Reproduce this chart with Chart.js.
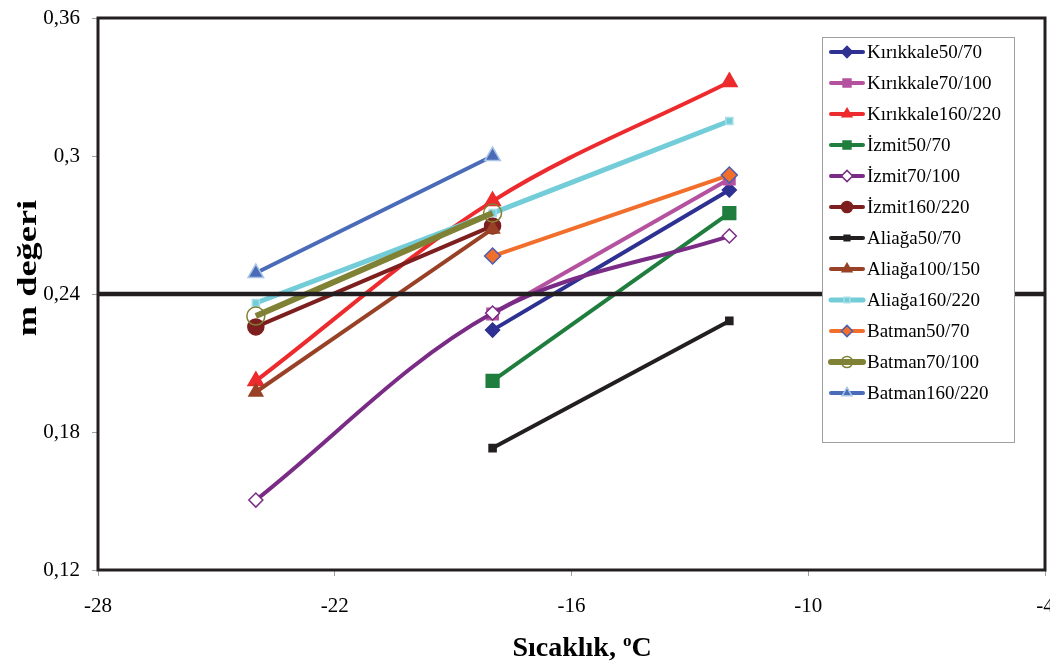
<!DOCTYPE html>
<html lang="tr">
<head>
  <meta charset="UTF-8" />
  <title>m değeri - Sıcaklık</title>
  <script src="https://cdn.jsdelivr.net/npm/chart.js"></script>
  <style>
    html, body { margin: 0; padding: 0; background: #fff; }
    #wrap { width: 1050px; height: 666px; position: relative; }
  </style>
</head>
<body>
  <div id="wrap"><canvas id="chart" width="1050" height="666"></canvas></div>

  <script>
    // Data
    const temps = [-24, -18, -12];
    const seriesNames = [
      "Kırıkkale50/70", "Kırıkkale70/100", "Kırıkkale160/220",
      "İzmit50/70", "İzmit70/100", "İzmit160/220",
      "Aliağa50/70", "Aliağa100/150", "Aliağa160/220",
      "Batman50/70", "Batman70/100", "Batman160/220"
    ];
    const kirikkale5070 = [null, 0.2243, 0.2852];
    const kirikkale70100 = [null, 0.2313, 0.2900];
    const kirikkale160220 = [0.2022, 0.2804, 0.3322];
    const izmit5070 = [null, 0.2022, 0.2752];
    const izmit70100 = [0.1504, 0.2317, 0.2652];
    const izmit160220 = [0.2257, 0.2696, null];
    const aliaga5070 = [null, 0.1730, 0.2283];
    const aliaga100150 = [0.1974, 0.2683, null];
    const aliaga160220 = [0.2361, 0.2752, 0.3152];
    const batman5070 = [null, 0.2565, 0.2917];
    const batman70100 = [0.2304, 0.2752, null];
    const batman160220 = [0.2491, 0.3000, null];
    const limitValue = 0.24;
    const xTicks = [-28, -22, -16, -10, -4];
    const yTicks = [0.12, 0.18, 0.24, 0.30, 0.36];

    const values = [
      kirikkale5070, kirikkale70100, kirikkale160220,
      izmit5070, izmit70100, izmit160220,
      aliaga5070, aliaga100150, aliaga160220,
      batman5070, batman70100, batman160220
    ];

    // line colour, marker, marker size, fill, border, line width
    const styles = [
      { c: "#2e3192", p: "rectRot", r: 7, bg: "#2e3192", bc: "#2e3192", w: 4 },
      { c: "#b5529f", p: "rect", r: 8, bg: "#b5529f", bc: "#b5529f", w: 4 },
      { c: "#ed2a2d", p: "triangle", r: 9, bg: "#ed2a2d", bc: "#ed2a2d", w: 4 },
      { c: "#1f7e3e", p: "rect", r: 9, bg: "#1f7e3e", bc: "#1f7e3e", w: 4 },
      { c: "#7a2b86", p: "rectRot", r: 7, bg: "#ffffff", bc: "#7a2b86", w: 4 },
      { c: "#7e1f1f", p: "circle", r: 8, bg: "#7e1f1f", bc: "#7e1f1f", w: 4 },
      { c: "#231f20", p: "rect", r: 5, bg: "#231f20", bc: "#231f20", w: 4 },
      { c: "#994126", p: "triangle", r: 8, bg: "#994126", bc: "#994126", w: 4 },
      { c: "#72cdd8", p: "rect", r: 5, bg: "#72cdd8", bc: "#a9dde8", w: 5 },
      { c: "#f26e2b", p: "rectRot", r: 8, bg: "#f26e2b", bc: "#4a5fb0", w: 4 },
      { c: "#7f8135", p: "circle", r: 9, bg: "rgba(255,255,255,0)", bc: "#7f8135", w: 6 },
      { c: "#4a6bb8", p: "triangle", r: 9, bg: "#4a6bb8", bc: "#a8c4e6", w: 4 }
    ];

    const N = seriesNames.length;
    const datasets = seriesNames.map((name, i) => {
      const s = styles[i];
      const pts = [];
      values[i].forEach((v, j) => { if (v !== null) pts.push({ x: temps[j], y: v }); });
      return {
        label: name,
        data: pts,
        borderColor: s.c,
        backgroundColor: s.bg,
        borderWidth: s.w,
        pointStyle: s.p,
        pointRadius: s.r,
        pointHoverRadius: s.r,
        pointBackgroundColor: s.bg,
        pointBorderColor: s.bc,
        pointBorderWidth: 1.5,
        tension: 0.35,
        order: N - i
      };
    });

    datasets.push({
      label: "limit",
      data: [{ x: xTicks[0], y: limitValue }, { x: xTicks[xTicks.length - 1], y: limitValue }],
      borderColor: "#231f20",
      borderWidth: 4.5,
      pointRadius: 0,
      tension: 0,
      order: -1
    });

    const fmtY = v => Number(v.toFixed(2)).toString().replace(".", ",");

    // frame, axis titles and the legend box
    const decorations = {
      id: "decorations",
      afterDraw(chart) {
        const ctx = chart.ctx;
        const a = chart.chartArea;
        ctx.save();
        ctx.strokeStyle = "#231f20";
        ctx.lineWidth = 3;
        ctx.strokeRect(a.left, a.top, a.right - a.left, a.bottom - a.top);

        // y title (text is drawn a bit stretched like the original)
        ctx.fillStyle = "#000";
        ctx.font = "bold 28px 'Liberation Serif'";
        ctx.textAlign = "center";
        ctx.textBaseline = "middle";
        ctx.save();
        ctx.translate(29, 268);
        ctx.rotate(-Math.PI / 2);
        ctx.scale(1.3, 1);
        ctx.fillText("m değeri", 0, 0);
        ctx.restore();

        // x title with superscript o
        const main = "Sıcaklık, ";
        ctx.font = "bold 28px 'Liberation Serif'";
        const w1 = ctx.measureText(main).width;
        ctx.font = "bold 17px 'Liberation Serif'";
        const w2 = ctx.measureText("o").width;
        ctx.font = "bold 28px 'Liberation Serif'";
        const w3 = ctx.measureText("C").width;
        let x = 582 - (w1 + w2 + w3) / 2;
        const y = 647;
        ctx.textAlign = "left";
        ctx.textBaseline = "alphabetic";
        ctx.fillText(main, x, y + 9);
        x += w1;
        ctx.font = "bold 17px 'Liberation Serif'";
        ctx.fillText("o", x, y - 1);
        x += w2;
        ctx.font = "bold 28px 'Liberation Serif'";
        ctx.fillText("C", x, y + 9);

        // legend
        const lx = 822, ly = 37, lw = 192, lh = 405;
        ctx.fillStyle = "#fff";
        ctx.fillRect(lx, ly, lw, lh);
        ctx.strokeStyle = "#a0a0a0";
        ctx.lineWidth = 1;
        ctx.strokeRect(lx + 0.5, ly + 0.5, lw, lh);
        ctx.font = "19px 'Liberation Serif'";
        ctx.textBaseline = "middle";
        seriesNames.forEach((name, i) => {
          const s = styles[i];
          const ry = 52 + i * 31;
          ctx.strokeStyle = s.c;
          ctx.lineWidth = s.w;
          ctx.lineCap = "round";
          ctx.beginPath();
          ctx.moveTo(831, ry);
          ctx.lineTo(863, ry);
          ctx.stroke();
          ctx.fillStyle = s.bg;
          ctx.strokeStyle = s.bc;
          ctx.lineWidth = 1.5;
          Chart.helpers.drawPoint(ctx, { pointStyle: s.p, radius: Math.min(s.r, 7) * 0.8, rotation: 0, borderWidth: 1.5 }, 847, ry);
          ctx.fillStyle = "#000";
          ctx.textAlign = "left";
          ctx.fillText(name, 867, ry + 1);
        });
        ctx.restore();
      }
    };

    new Chart(document.getElementById("chart"), {
      type: "line",
      data: { datasets },
      plugins: [decorations],
      options: {
        responsive: false,
        animation: false,
        events: [],
        layout: { autoPadding: false, padding: { top: 18, right: 5, left: 0, bottom: 0 } },
        plugins: { legend: { display: false }, tooltip: { enabled: false } },
        scales: {
          x: {
            type: "linear",
            min: xTicks[0],
            max: xTicks[xTicks.length - 1],
            afterBuildTicks: sc => { sc.ticks = xTicks.map(v => ({ value: v })); },
            afterFit: sc => { sc.height = 96; sc.paddingLeft = 0; sc.paddingRight = 0; },
            grid: { drawOnChartArea: false, tickLength: 6, color: "#a0a0a0" },
            border: { display: false },
            ticks: { color: "#000", font: { family: "'Liberation Serif'", size: 21 }, padding: 18, maxRotation: 0 }
          },
          y: {
            min: yTicks[0],
            max: yTicks[yTicks.length - 1],
            afterBuildTicks: sc => { sc.ticks = yTicks.map(v => ({ value: v })); },
            afterFit: sc => { sc.width = 98; sc.paddingTop = 0; sc.paddingBottom = 0; },
            grid: { drawOnChartArea: false, tickLength: 6, color: "#a0a0a0" },
            border: { display: false },
            ticks: { color: "#000", font: { family: "'Liberation Serif'", size: 21 }, padding: 12, callback: v => fmtY(v) }
          }
        }
      }
    });
  </script>
</body>
</html>
